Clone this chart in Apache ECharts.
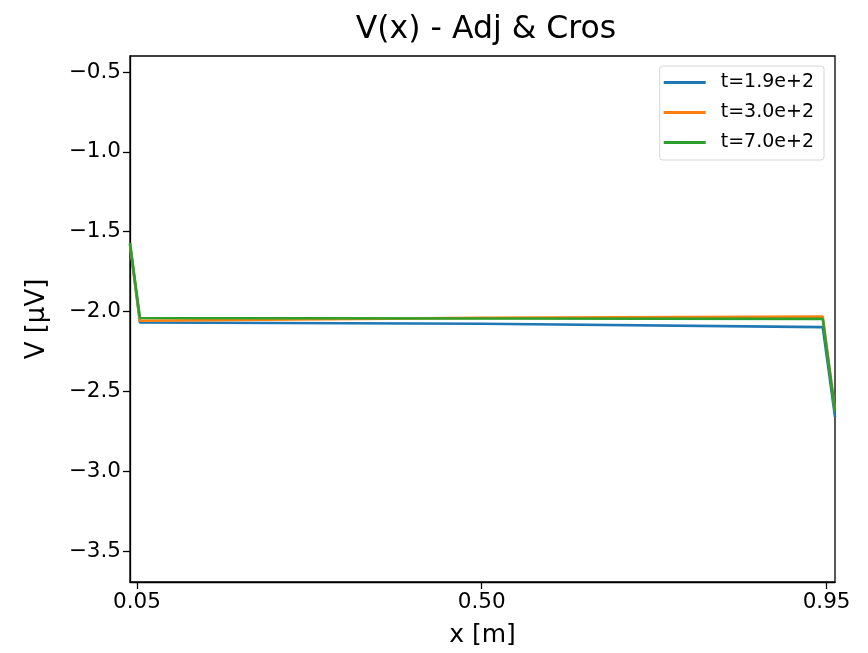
<!DOCTYPE html>
<html>
<head>
<meta charset="utf-8">
<script src="https://cdn.jsdelivr.net/npm/echarts@6/dist/echarts.min.js"></script>
<style>
  html, body { margin: 0; padding: 0; background: #fff; }
  #chart { width: 868px; height: 653px; }
</style>
</head>
<body>
<div id="chart"></div>
<script>
// Potential profile V(x) along the cable, one curve per time step
const xPos = [0.041, 0.054, 0.50, 0.945, 0.961];
const vT190 = [-1.58, -2.069, -2.077, -2.098, -2.66];
const vT300 = [-1.58, -2.058, -2.040, -2.031, -2.62];
const vT700 = [-1.57, -2.041, -2.044, -2.046, -2.62];

const seriesNames = ['t=1.9e+2', 't=3.0e+2', 't=7.0e+2'];
const seriesValues = [vT190, vT300, vT700];
const seriesColors = ['#1f77b4', '#ff7f0e', '#2ca02c'];

const xTicks = [0.05, 0.50, 0.95];
const yTicks = [-3.5, -3.0, -2.5, -2.0, -1.5, -1.0, -0.5];

const FONT = '"DejaVu Sans", sans-serif';
const minus = s => s.replace('-', '\u2212');

const chart = echarts.init(document.getElementById('chart'), null, { renderer: 'canvas' });

chart.setOption({
  animation: false,
  backgroundColor: '#ffffff',
  title: {
    text: 'V(x) - Adj & Cros',
    left: 481,
    textAlign: 'center',
    top: 9,
    textStyle: { fontFamily: FONT, fontSize: 31.5, fontWeight: 'normal', color: '#000' }
  },
  grid: {
    left: 130, right: 33, top: 56, bottom: 71,
    show: true, borderColor: '#000', borderWidth: 1.3, backgroundColor: 'transparent'
  },
  legend: {
    orient: 'vertical',
    right: 44, top: 66,
    padding: [7, 10, 8, 4],
    itemGap: 11,
    itemWidth: 42, itemHeight: 3,
    icon: 'rect',
    backgroundColor: 'rgba(255,255,255,0.8)',
    borderColor: '#d6d6d6', borderWidth: 1, borderRadius: 3,
    textStyle: { fontFamily: FONT, fontSize: 19, color: '#000', padding: [0, 0, 0, 10] },
    data: seriesNames
  },
  xAxis: {
    type: 'value',
    min: 0.041, max: 0.961,
    name: 'x [m]',
    nameLocation: 'middle',
    nameGap: 41,
    nameTextStyle: { fontFamily: FONT, fontSize: 25, color: '#000' },
    axisLine: { lineStyle: { color: '#000', width: 1.3 } },
    axisTick: { show: true, length: 7, lineStyle: { color: '#000', width: 1.3 }, customValues: xTicks },
    axisLabel: {
      fontFamily: FONT, fontSize: 21.5, color: '#000', margin: 9,
      customValues: xTicks,
      formatter: v => v.toFixed(2)
    },
    splitLine: { show: false }
  },
  yAxis: {
    type: 'value',
    min: -3.694, max: -0.40,
    name: 'V [\u03bcV]',
    nameLocation: 'middle',
    nameGap: 80,
    nameTextStyle: { fontFamily: FONT, fontSize: 26, color: '#000' },
    axisLine: { show: true, lineStyle: { color: '#000', width: 1.3 } },
    axisTick: { show: true, length: 7, lineStyle: { color: '#000', width: 1.3 }, customValues: yTicks },
    axisLabel: {
      fontFamily: FONT, fontSize: 21.5, color: '#000', margin: 9,
      customValues: yTicks,
      formatter: v => minus(v.toFixed(1))
    },
    splitLine: { show: false }
  },
  series: seriesNames.map((name, i) => ({
    name,
    type: 'line',
    showSymbol: false,
    symbol: 'none',
    color: seriesColors[i],
    lineStyle: { width: 2.6, color: seriesColors[i] },
    data: xPos.map((x, k) => [x, seriesValues[i][k]]),
    z: 2 + i
  }))
});
</script>
</body>
</html>
